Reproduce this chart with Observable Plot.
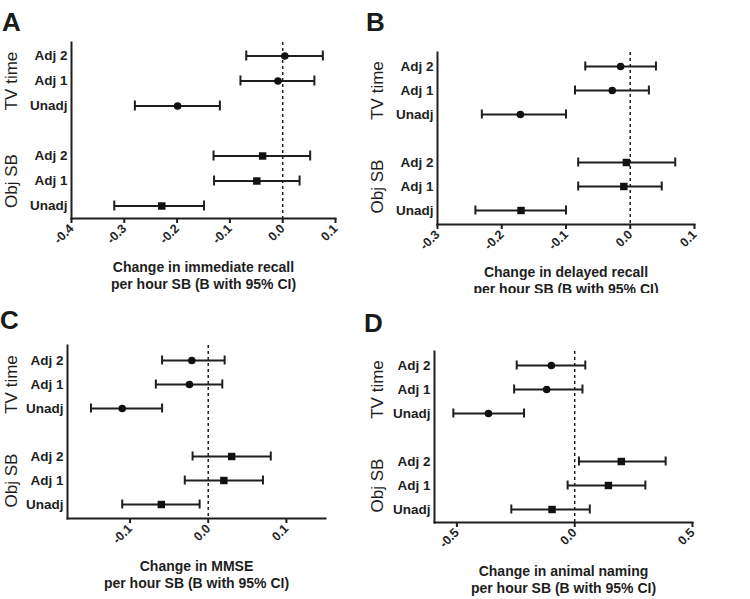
<!DOCTYPE html>
<html><head><meta charset="utf-8">
<script src="https://cdn.jsdelivr.net/npm/d3@7"></script>
<script src="https://cdn.jsdelivr.net/npm/@observablehq/plot@0.6"></script>
<style>
body{margin:0;background:#fff;font-family:"Liberation Sans",Arial,sans-serif;}
#wrap{position:relative;width:750px;height:599px;overflow:hidden;background:#fff;}
.panel{position:absolute;overflow:visible;}
.panel svg{overflow:visible;}
.letter{position:absolute;font:bold 26px/1 "Liberation Sans",Arial,sans-serif;color:#1a1a1a;}
</style></head><body><div id="wrap"></div>
<script>
// Row order in each panel: TV time (Adj 2, Adj 1, Unadj), Obj SB (Adj 2, Adj 1, Unadj)
const groups = ["TV time", "Obj SB"];
const rows = ["Adj 2", "Adj 1", "Unadj"];

// Panel A: immediate recall
const aEst = [0.004, -0.009, -0.199, -0.038, -0.049, -0.229];
const aLo  = [-0.069, -0.080, -0.280, -0.131, -0.130, -0.319];
const aHi  = [0.076, 0.060, -0.119, 0.052, 0.032, -0.149];
const aTicks = [-0.4, -0.3, -0.2, -0.1, 0.0, 0.1];
const aTitle = "Change in immediate recall\nper hour SB (B with 95% CI)";

// Panel B: delayed recall
const bEst = [-0.015, -0.028, -0.171, -0.006, -0.010, -0.170];
const bLo  = [-0.070, -0.086, -0.231, -0.081, -0.081, -0.241];
const bHi  = [0.040, 0.029, -0.100, 0.070, 0.049, -0.100];
const bTicks = [-0.3, -0.2, -0.1, 0.0, 0.1];
const bTitle = "Change in delayed recall\nper hour SB (B with 95% CI)";

// Panel C: MMSE
const cEst = [-0.021, -0.024, -0.110, 0.030, 0.020, -0.060];
const cLo  = [-0.059, -0.067, -0.150, -0.020, -0.030, -0.110];
const cHi  = [0.021, 0.018, -0.059, 0.080, 0.070, -0.011];
const cTicks = [-0.1, 0.0, 0.1];
const cTitle = "Change in MMSE\nper hour SB (B with 95% CI)";

// Panel D: animal naming
const dEst = [-0.099, -0.119, -0.366, 0.198, 0.143, -0.096];
const dLo  = [-0.246, -0.257, -0.515, 0.018, -0.030, -0.269];
const dHi  = [0.045, 0.033, -0.215, 0.386, 0.300, 0.064];
const dTicks = [-0.5, 0.0, 0.5];
const dTitle = "Change in animal naming\nper hour SB (B with 95% CI)";

const ink = "#1e1e1e";
const font = "'Liberation Sans', Arial, sans-serif";

function makePanel(p) {
  const data = [];
  groups.forEach((g, gi) => rows.forEach((r, ri) => {
    const i = gi * 3 + ri;
    data.push({g, r, key: g + "|" + r, est: p.est[i], lo: p.lo[i], hi: p.hi[i]});
  }));
  const domain = [...rows.map(r => groups[0] + "|" + r), "gap", ...rows.map(r => groups[1] + "|" + r)];
  const glabels = groups.map(g => ({g, key: g + "|Adj 1"}));
  return Plot.plot({
    width: p.w, height: p.h,
    marginLeft: p.ml, marginRight: p.mr, marginTop: p.mt, marginBottom: p.mb,
    style: {fontFamily: font, color: ink, background: "white", overflow: "visible"},
    x: {domain: p.domain},
    y: {type: "band", domain, padding: 0},
    marks: [
      Plot.ruleX([0], {stroke: ink, strokeWidth: 1.5, strokeDasharray: "3,3"}),
      Plot.ruleY(data, {y: "key", x1: "lo", x2: "hi", stroke: ink, strokeWidth: 2}),
      Plot.tickX(data, {x: "lo", y: "key", insetTop: 7.5, insetBottom: 7.5, stroke: ink, strokeWidth: 2}),
      Plot.tickX(data, {x: "hi", y: "key", insetTop: 7.5, insetBottom: 7.5, stroke: ink, strokeWidth: 2}),
      Plot.dot(data.filter(d => d.g === groups[0]), {x: "est", y: "key", r: 3.8, fill: "#111", stroke: "none"}),
      Plot.dot(data.filter(d => d.g === groups[1]), {x: "est", y: "key", symbol: "square", r: 4.2, fill: "#111", stroke: "none"}),
      Plot.axisY({tickSize: 0, tickPadding: 4, tickFormat: d => d === "gap" ? "" : d.split("|")[1], fontWeight: "bold", fontSize: 13.5, label: null}),
      Plot.axisX({ticks: p.ticks, tickFormat: d => d.toFixed(1), tickRotate: -45, tickSize: 5, tickPadding: 3, strokeWidth: 2, fontWeight: "bold", fontSize: 12.5, label: null}),
      Plot.frame({anchor: "left", stroke: ink, strokeWidth: 2}),
      Plot.frame({anchor: "bottom", stroke: ink, strokeWidth: 2}),
      Plot.text(glabels, {frameAnchor: "left", y: "key", text: "g", rotate: -90, dx: p.gdx, textAnchor: "middle", fontSize: 17, fill: ink}),
      Plot.text([p.title], {frameAnchor: "bottom", text: d => d, dy: p.tdy, lineAnchor: "top", lineHeight: 1.2, fontWeight: "bold", fontSize: 14, fill: ink})
    ]
  });
}

const wrap = document.getElementById("wrap");
function place(el, left, top, w, h, clip) {
  const div = document.createElement("div");
  div.className = "panel";
  if (clip) {
    // clip only the bottom edge: extend the box to the left and shift the chart inside
    const pad = 40;
    div.style.left = (left - pad) + "px"; div.style.top = top + "px";
    div.style.width = (w + pad) + "px"; div.style.height = h + "px";
    div.style.overflow = "hidden";
    el.style.marginLeft = pad + "px";
  } else {
    div.style.left = left + "px"; div.style.top = top + "px";
    div.style.width = w + "px"; div.style.height = h + "px";
  }
  el.style.display = "block";
  div.appendChild(el);
  wrap.appendChild(div);
}
function letter(t, left, top) {
  const d = document.createElement("div");
  d.className = "letter"; d.textContent = t;
  d.style.left = left + "px"; d.style.top = top + "px";
  wrap.appendChild(d);
}

place(makePanel({est: aEst, lo: aLo, hi: aHi, ticks: aTicks, title: aTitle, domain: [-0.4, 0.1],
  w: 375, h: 300, ml: 71, mr: 40, mt: 42, mb: 82, gdx: -60, tdy: 42}), 0, 0, 375, 300, false);
place(makePanel({est: bEst, lo: bLo, hi: bHi, ticks: bTicks, title: bTitle, domain: [-0.3, 0.1],
  w: 375, h: 300, ml: 62, mr: 56, mt: 52, mb: 76, gdx: -60, tdy: 41}), 375, 0, 375, 293, true);
place(makePanel({est: cEst, lo: cLo, hi: cHi, ticks: cTicks, title: cTitle, domain: [-0.18, 0.15],
  w: 375, h: 299, ml: 67, mr: 50, mt: 45, mb: 81, gdx: -56, tdy: 41}), 0, 300, 375, 299, false);
place(makePanel({est: dEst, lo: dLo, hi: dHi, ticks: dTicks, title: dTitle, domain: [-0.595, 0.5],
  w: 375, h: 299, ml: 59, mr: 58, mt: 51, mb: 77, gdx: -57, tdy: 42}), 375, 300, 375, 299, false);

letter("A", 2, 9);
letter("B", 366, 9);
letter("C", 0, 307);
letter("D", 364, 310);
</script></body></html>
